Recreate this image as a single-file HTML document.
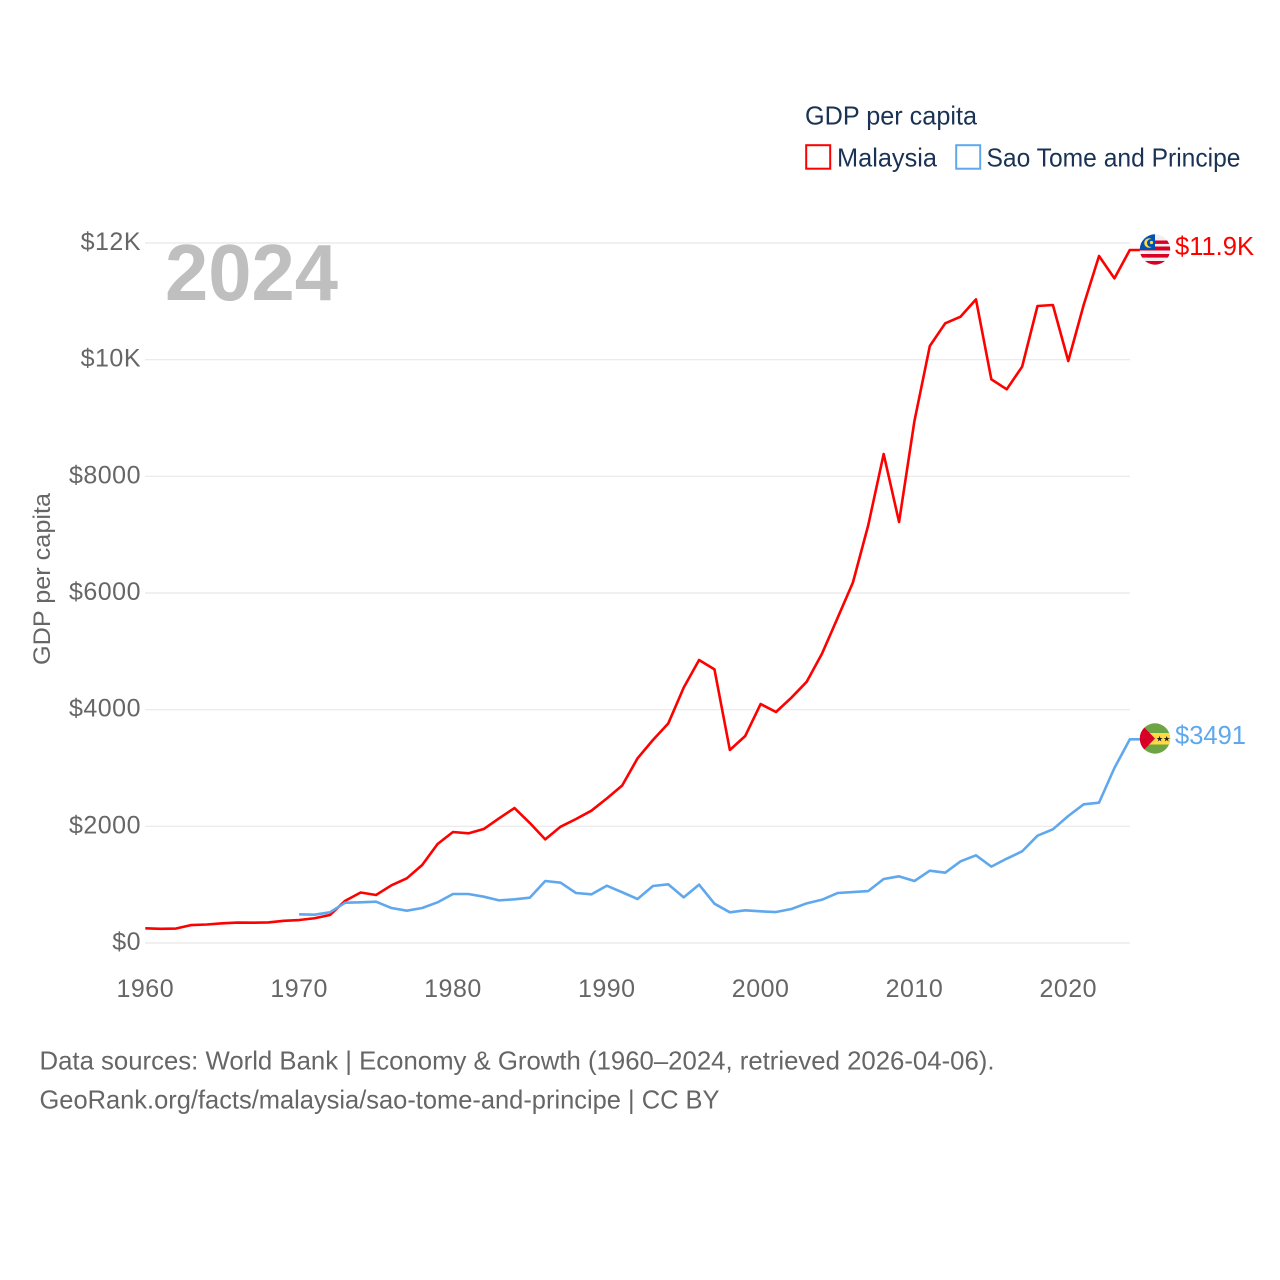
<!DOCTYPE html>
<html lang="en">
<head>
<meta charset="utf-8">
<title>GDP per capita: Malaysia and Sao Tome and Principe</title>
<style>
html,body{margin:0;padding:0;background:#fff;}
svg{display:block;font-family:"Liberation Sans",sans-serif;}
</style>
</head>
<body>
<svg id="chart" xmlns="http://www.w3.org/2000/svg" width="1280" height="1280" viewBox="0 0 1280 1280">
  <rect x="0" y="0" width="1280" height="1280" fill="#ffffff"/>
  <g id="grid"></g>
  <g id="yticks"></g>
  <g id="xticks"></g>
  <text x="165" y="300" font-size="80" font-weight="700" fill="#bfbfbf" textLength="173" lengthAdjust="spacingAndGlyphs">2024</text>
  <text transform="translate(50,579) rotate(-90)" text-anchor="middle" font-size="24.5" fill="#666666" textLength="172" lengthAdjust="spacingAndGlyphs">GDP per capita</text>
  <g id="series"></g>

  <g>
    <clipPath id="clip-my"><circle cx="1155" cy="249.5" r="15.2"/></clipPath>
    <g clip-path="url(#clip-my)">
      <rect x="1139" y="234" width="32" height="31" fill="#f0f0f0"/>
      <rect x="1139" y="240.5" width="32" height="3.4" fill="#d80027"/>
      <rect x="1139" y="246.5" width="32" height="4" fill="#d80027"/>
      <rect x="1139" y="254" width="32" height="3.6" fill="#d80027"/>
      <rect x="1139" y="261" width="32" height="4" fill="#d80027"/>
      <rect x="1139" y="234" width="16" height="16" fill="#0052b4"/>
      <circle cx="1149" cy="243" r="4.8" fill="#ffda44"/>
      <circle cx="1151" cy="243" r="4" fill="#0052b4"/>
      <circle cx="1151.5" cy="242.5" r="1.6" fill="#ffda44"/>
    </g>
  </g>
  <g>
    <clipPath id="clip-st"><circle cx="1155" cy="738.5" r="15.2"/></clipPath>
    <g clip-path="url(#clip-st)">
      <rect x="1139" y="723" width="32" height="31" fill="#6da544"/>
      <rect x="1139" y="733" width="32" height="11.5" fill="#ffda44"/>
      <polygon points="1139,723 1140,723 1155,738.5 1140,754 1139,754" fill="#d80027"/>
      <text x="1156" y="741.5" font-size="8" fill="#222222" font-family="'DejaVu Sans',sans-serif">★★</text>
    </g>
  </g>

  <text id="label-my" x="1175" y="255" font-size="25.5" fill="#ff0000" textLength="79" lengthAdjust="spacingAndGlyphs"></text>
  <text id="label-st" x="1175" y="744" font-size="25.5" fill="#5fa8ee" textLength="71" lengthAdjust="spacingAndGlyphs"></text>

  <g>
    <text x="805" y="124.5" font-size="26" fill="#1a3355" textLength="172" lengthAdjust="spacingAndGlyphs">GDP per capita</text>
    <g>
      <rect x="806.2" y="145.2" width="24" height="23.5" fill="#ffffff" stroke="#ff0000" stroke-width="2"/>
      <text x="837" y="166.5" font-size="26" fill="#1a3355" textLength="100" lengthAdjust="spacingAndGlyphs">Malaysia</text>
    </g>
    <g>
      <rect x="956.2" y="145.2" width="24" height="23.5" fill="#ffffff" stroke="#5fa8ee" stroke-width="2"/>
      <text x="986.5" y="166.5" font-size="26" fill="#1a3355" textLength="254" lengthAdjust="spacingAndGlyphs">Sao Tome and Principe</text>
    </g>
  </g>

  <text x="39.5" y="1069.5" font-size="26" fill="#666666" textLength="955" lengthAdjust="spacingAndGlyphs">Data sources: World Bank | Economy &amp; Growth (1960–2024, retrieved 2026-04-06).</text>
  <text x="39.5" y="1108.5" font-size="26" fill="#666666" textLength="680" lengthAdjust="spacingAndGlyphs">GeoRank.org/facts/malaysia/sao-tome-and-principe | CC BY</text>
</svg>
<script>
const malaysiaYears = [1960,1961,1962,1963,1964,1965,1966,1967,1968,1969,1970,1971,1972,1973,1974,1975,1976,1977,1978,1979,1980,1981,1982,1983,1984,1985,1986,1987,1988,1989,1990,1991,1992,1993,1994,1995,1996,1997,1998,1999,2000,2001,2002,2003,2004,2005,2006,2007,2008,2009,2010,2011,2012,2013,2014,2015,2016,2017,2018,2019,2020,2021,2022,2023,2024];
const malaysiaValues = [252,243,248,308,317,338,351,348,353,380,394,424,480,725,866,823,989,1109,1337,1697,1903,1880,1954,2137,2314,2057,1777,1994,2126,2268,2477,2700,3166,3480,3766,4377,4851,4691,3309,3549,4097,3960,4205,4480,4966,5570,6180,7166,8383,7217,8949,10234,10623,10737,11034,9663,9492,9880,10920,10937,9977,10937,11777,11394,11880];
const saoTomeYears = [1970,1971,1972,1973,1974,1975,1976,1977,1978,1979,1980,1981,1982,1983,1984,1985,1986,1987,1988,1989,1990,1991,1992,1993,1994,1995,1996,1997,1998,1999,2000,2001,2002,2003,2004,2005,2006,2007,2008,2009,2010,2011,2012,2013,2014,2015,2016,2017,2018,2019,2020,2021,2022,2023,2024];
const saoTomeValues = [491,485,526,691,697,708,600,554,600,697,840,840,794,731,749,777,1063,1034,857,834,982,870,754,977,1006,783,1000,674,526,560,543,531,583,680,743,857,874,891,1097,1143,1063,1240,1206,1400,1503,1309,1446,1571,1840,1949,2177,2377,2406,3000,3491];
const yTickValues = [0,2000,4000,6000,8000,10000,12000];
const yTickLabels = ["$0","$2000","$4000","$6000","$8000","$10K","$12K"];
const xTickValues = [1960,1970,1980,1990,2000,2010,2020];
const xTickLabels = ["1960","1970","1980","1990","2000","2010","2020"];
const malaysiaEndLabel = "$11.9K";
const saoTomeEndLabel = "$3491";

const NS = 'http://www.w3.org/2000/svg';
const xScale = function (year) { return 145.3 + (year - 1960) * (1129.8 - 145.3) / 64; };
const yScale = function (value) { return 943 - value * 700 / 12000; };

const grid = document.getElementById('grid');
const yticks = document.getElementById('yticks');
const xticks = document.getElementById('xticks');
const series = document.getElementById('series');

yTickValues.forEach(function (v, i) {
  const line = document.createElementNS(NS, 'line');
  
  
  line.setAttribute('x1', 145);
  line.setAttribute('x2', 1130);
  line.setAttribute('y1', yScale(v));
  line.setAttribute('y2', yScale(v));
  line.setAttribute('stroke', '#e8e8e8');
  line.setAttribute('stroke-width', 1.2);
  grid.appendChild(line);

  const t = document.createElementNS(NS, 'text');
  
  
  t.setAttribute('x', 141);
  t.setAttribute('y', yScale(v) + 7);
  t.setAttribute('text-anchor', 'end');
  t.setAttribute('font-size', 25);
  t.setAttribute('letter-spacing', 0.5);
  t.setAttribute('fill', '#666666');
  t.textContent = yTickLabels[i];
  yticks.appendChild(t);
});

xTickValues.forEach(function (v, i) {
  const t = document.createElementNS(NS, 'text');
  
  
  t.setAttribute('x', xScale(v));
  t.setAttribute('y', 997);
  t.setAttribute('text-anchor', 'middle');
  t.setAttribute('font-size', 25);
  t.setAttribute('letter-spacing', 0.5);
  t.setAttribute('fill', '#666666');
  t.textContent = xTickLabels[i];
  xticks.appendChild(t);
});

function linePath(years, values) {
  const parts = years.map(function (yr, i) {
    return (i ? 'L' : 'M') + xScale(yr).toFixed(2) + ' ' + yScale(values[i]).toFixed(2);
  });
  parts.push('L' + (xScale(years[years.length - 1]) + 11).toFixed(2) + ' ' + yScale(values[values.length - 1]).toFixed(2));
  return parts.join(' ');
}

const saoTomePath = document.createElementNS(NS, 'path');


saoTomePath.setAttribute('d', linePath(saoTomeYears, saoTomeValues));
saoTomePath.setAttribute('fill', 'none');
saoTomePath.setAttribute('stroke', '#5fa8ee');
saoTomePath.setAttribute('stroke-width', 2.6);
saoTomePath.setAttribute('stroke-linejoin', 'round');

const malaysiaPath = document.createElementNS(NS, 'path');


malaysiaPath.setAttribute('d', linePath(malaysiaYears, malaysiaValues));
malaysiaPath.setAttribute('fill', 'none');
malaysiaPath.setAttribute('stroke', '#ff0000');
malaysiaPath.setAttribute('stroke-width', 2.6);
malaysiaPath.setAttribute('stroke-linejoin', 'round');

series.appendChild(malaysiaPath);
series.appendChild(saoTomePath);

document.getElementById('label-my').textContent = malaysiaEndLabel;
document.getElementById('label-st').textContent = saoTomeEndLabel;
</script>
</body>
</html>
